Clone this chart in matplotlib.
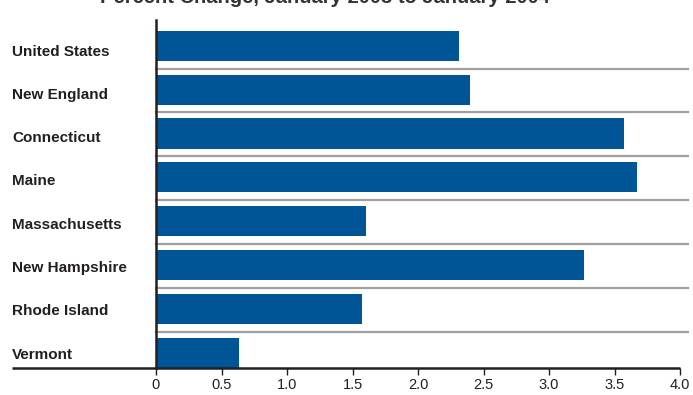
import matplotlib
matplotlib.use('Agg')
import matplotlib.pyplot as plt

plt.rcParams['font.family'] = ['Liberation Sans', 'DejaVu Sans']

BAR_COLOR = '#005596'
TEXT_COLOR = '#231f20'
RULE_COLOR = '#a0a0a0'

states = ['United States', 'New England', 'Connecticut', 'Maine',
          'Massachusetts', 'New Hampshire', 'Rhode Island', 'Vermont']
pct_change = [2.31, 2.40, 3.57, 3.67, 1.60, 3.27, 1.57, 0.63]
xticks = [0, 0.5, 1.0, 1.5, 2.0, 2.5, 3.0, 3.5, 4.0]
xtick_labels = ['0', '0.5', '1.0', '1.5', '2.0', '2.5', '3.0', '3.5', '4.0']
title = 'Percent Change, January 2003 to January 2004'

W, H = 693, 395
fig = plt.figure(figsize=(W / 100, H / 100), dpi=100)
ax = fig.add_axes([156 / W, (H - 368) / H, 524 / W, 348 / H])

ypos = list(range(len(states)))
ax.barh(ypos, pct_change, height=0.69, color=BAR_COLOR, zorder=2)

ax.set_xlim(0, 4.0)
ax.set_ylim(7.35, -0.59)

# gray separators between rows
for i in range(len(states) - 1):
    ax.plot([0, 4.06], [i + 0.52, i + 0.52], color=RULE_COLOR,
            linewidth=1.6, clip_on=False, zorder=1)

for s in ['top', 'right', 'bottom']:
    ax.spines[s].set_visible(False)
ax.spines['left'].set_linewidth(1.8)
ax.spines['left'].set_color(TEXT_COLOR)
ax.spines['left'].set_zorder(3)

# long baseline under the chart, reaching out under the labels
ax.plot([-1.10, 4.0], [7.35, 7.35], color=TEXT_COLOR, linewidth=1.8,
        clip_on=False, zorder=3, solid_capstyle='butt')

ax.set_xticks(xticks)
ax.set_xticklabels(xtick_labels, fontsize=10.5, color=TEXT_COLOR)
ax.tick_params(axis='x', direction='out', length=5, width=1.0,
               color=TEXT_COLOR, pad=2)
ax.set_yticks([])

# row labels sit a little below the bar centres
for i, name in enumerate(states):
    ax.text(12 / W, (H - (51.5 + 43.3 * i)) / H, name, transform=fig.transFigure,
            ha='left', va='center', fontsize=11, fontweight='bold',
            color=TEXT_COLOR)

# title sits partly above the top edge, as in the source image
fig.text(325 / W, 1 - 3 / H, title, ha='center', va='baseline',
         fontsize=14.5, fontweight='bold', color='#333333')

fig.savefig('out.png', dpi=100, facecolor='white')
